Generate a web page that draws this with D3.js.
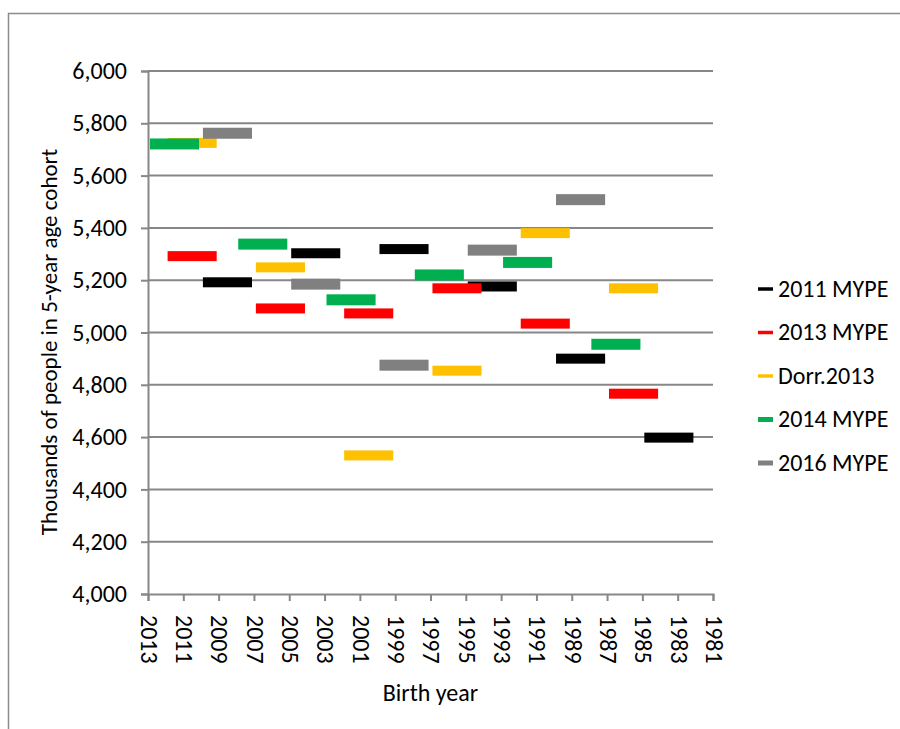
<!DOCTYPE html>
<html>
<head>
<meta charset="utf-8">
<script src="https://cdn.jsdelivr.net/npm/d3@7/dist/d3.min.js"></script>
<style>
  html, body { margin: 0; padding: 0; background: #fff; }
  svg { display: block; }
  text { font-family: Carlito, Calibri, "Open Sans", sans-serif; fill: #000; }
</style>
</head>
<body>
<svg id="chart" width="900" height="729"></svg>
<script>
// Series names, colours and cohort estimates (thousands), keyed by the mid birth year of each bar
const seriesNames = ["2011 MYPE", "2013 MYPE", "Dorr.2013", "2014 MYPE", "2016 MYPE"];
const seriesColors = ["#000000", "#FF0000", "#FFC000", "#00B050", "#808080"];

const mype2011Years = [2008.5, 2003.5, 1998.5, 1993.5, 1988.5, 1983.5];
const mype2011Values = [5192, 5303, 5319, 5176, 4900, 4598];

const mype2013Years = [2010.5, 2005.5, 2000.5, 1995.5, 1990.5, 1985.5];
const mype2013Values = [5292, 5092, 5073, 5169, 5034, 4766];

const dorr2013Years = [2010.5, 2005.5, 2000.5, 1995.5, 1990.5, 1985.5];
const dorr2013Values = [5725, 5249, 4530, 4854, 5380, 5169];

const mype2014Years = [2011.5, 2006.5, 2001.5, 1996.5, 1991.5, 1986.5];
const mype2014Values = [5721, 5338, 5125, 5220, 5268, 4955];

const mype2016Years = [2008.5, 2003.5, 1998.5, 1993.5, 1988.5];
const mype2016Values = [5762, 5185, 4875, 5315, 5508];

const xTicks = d3.range(2013, 1980, -2);
const yTicks = d3.range(4000, 6001, 200);

const seriesYears = [mype2011Years, mype2013Years, dorr2013Years, mype2014Years, mype2016Years];
const seriesValues = [mype2011Values, mype2013Values, dorr2013Values, mype2014Values, mype2016Values];

const series = seriesNames.map((name, i) => ({
  name,
  color: seriesColors[i],
  points: seriesYears[i].map((yr, j) => ({ year: yr, value: seriesValues[i][j] }))
}));

const svg = d3.select("#chart");
const plotLeft = 148, plotRight = 713, plotTop = 71, plotBottom = 594;
const fontSize = "24px";

const x = d3.scaleLinear().domain([2013, 1981]).range([plotLeft, plotRight]);
const y = d3.scaleLinear().domain([4000, 6000]).range([plotBottom, plotTop]);

// chart frame
svg.append("rect")
  .attr("x", 8.5).attr("y", 13.5)
  .attr("width", 920).attr("height", 740)
  .attr("fill", "none").attr("stroke", "#8c8c8c").attr("stroke-width", 1.5);

const gridColor = "#878787";

// horizontal gridlines
svg.append("g").selectAll("line").data(yTicks.filter(v => v > 4000)).join("line")
  .attr("x1", plotLeft).attr("x2", plotRight)
  .attr("y1", d => y(d)).attr("y2", d => y(d))
  .attr("stroke", gridColor).attr("stroke-width", 2);

// y axis
const yAxis = svg.append("g").attr("transform", `translate(${plotLeft},0)`)
  .call(d3.axisLeft(y).tickValues(yTicks).tickFormat(d3.format(",")).tickSize(7).tickPadding(14));
yAxis.select(".domain").attr("stroke", gridColor).attr("stroke-width", 2);
yAxis.selectAll(".tick line").attr("stroke", gridColor).attr("stroke-width", 2);
yAxis.selectAll(".tick text").style("font-size", fontSize).attr("fill", "#000");

// x axis
const xAxis = svg.append("g").attr("transform", `translate(0,${plotBottom})`)
  .call(d3.axisBottom(x).tickValues(xTicks).tickFormat(d3.format("d")).tickSize(7));
xAxis.select(".domain").attr("stroke", gridColor).attr("stroke-width", 2);
xAxis.selectAll(".tick line").attr("stroke", gridColor).attr("stroke-width", 2);
xAxis.selectAll(".tick text")
  .style("font-size", fontSize).attr("fill", "#000")
  .attr("text-anchor", "start")
  .attr("transform", "rotate(90)")
  .attr("x", 21).attr("y", 0).attr("dy", "0.32em");

// cohort bars: centred on the mid birth year, fixed span, drawn in series order
const barSpan = 2.78;
series.forEach((s, i) => {
  const h = (i >= 3) ? 11 : 10;
  svg.append("g").selectAll("rect").data(s.points).join("rect")
    .attr("x", d => x(d.year + barSpan / 2))
    .attr("width", d => x(d.year - barSpan / 2) - x(d.year + barSpan / 2))
    .attr("y", d => y(d.value) - h / 2)
    .attr("height", h)
    .attr("fill", s.color);
});

// axis titles
svg.append("text")
  .attr("x", (plotLeft + plotRight) / 2).attr("y", 701)
  .attr("text-anchor", "middle").style("font-size", fontSize)
  .text("Birth year");

svg.append("text")
  .attr("transform", `translate(57,342) rotate(-90)`)
  .attr("text-anchor", "middle").style("font-size", "23px")
  .text("Thousands of people in 5-year age cohort");

// legend
const legend = svg.append("g");
series.forEach((s, i) => {
  const cy = 289 + i * 43.5;
  legend.append("line")
    .attr("x1", 758).attr("x2", 773)
    .attr("y1", cy).attr("y2", cy)
    .attr("stroke", s.color).attr("stroke-width", i >= 3 ? 5 : 3.5);
  legend.append("text")
    .attr("x", 778).attr("y", cy).attr("dy", "0.32em")
    .style("font-size", fontSize)
    .text(s.name);
});
</script>
</body>
</html>
